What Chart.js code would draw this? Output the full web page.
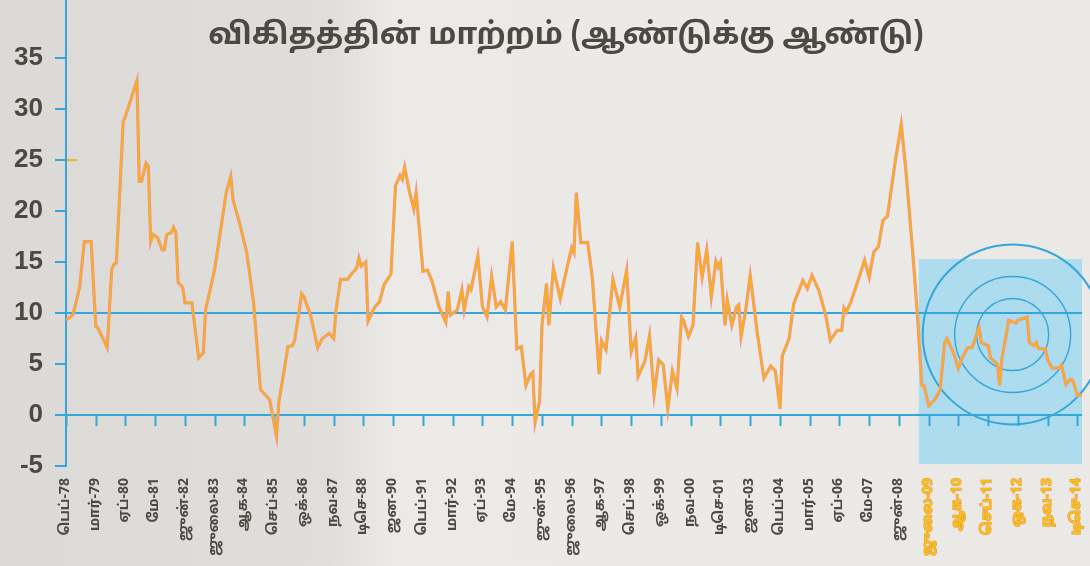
<!DOCTYPE html>
<html>
<head>
<meta charset="utf-8">
<script src="https://cdn.jsdelivr.net/npm/chart.js@4.4.1/dist/chart.umd.min.js"></script>
<style>
  html, body { margin: 0; padding: 0; background: #e8e7e4; }
  #wrap { width: 1090px; height: 566px; }
</style>
</head>
<body>
<div id="wrap"><canvas id="chart" width="1090" height="566"></canvas></div>
<script>
// month index, 0 = Feb 1978
const months = [
  0, 3, 5, 6, 8, 11, 13, 14, 18, 20,
  21, 22, 25, 26, 31, 32, 33, 35, 36, 37,
  38, 40, 42, 43, 44, 46, 47, 48, 49, 51,
  52, 55, 58, 60, 61, 65, 70, 72, 73, 76,
  79, 82, 85, 89, 92, 93, 97, 99, 100, 103,
  104, 107, 110, 112, 115, 117, 118, 120, 123, 125,
  127, 128, 129, 131, 132, 135, 137, 139, 142, 144,
  146, 147, 148, 150, 152, 153, 156, 158, 160, 163,
  166, 167, 168, 171, 173, 174, 176, 177, 180, 182,
  184, 186, 188, 190, 192, 195, 197, 199, 201, 203,
  204, 205, 207, 208, 210, 211, 213, 216, 219, 221,
  222, 223, 225, 228, 230, 233, 234, 236, 239, 242,
  245, 247, 249, 250, 253, 255, 257, 259, 261, 263,
  265, 267, 269, 270, 272, 274, 276, 278, 280, 282,
  284, 285, 286, 288, 289, 291, 293, 294, 295, 297,
  299, 302, 305, 308, 310, 312, 313, 316, 318, 322,
  324, 326, 329, 332, 334, 337, 339, 340, 341, 343,
  346, 349, 351, 353, 355, 357, 359, 362, 365, 367,
  370, 372, 374, 375, 377, 380, 382, 384, 385, 388,
  390, 392, 394, 396, 399, 400, 403, 404, 407, 408,
  409, 412, 415, 416, 420, 421, 423, 424, 425, 428,
  429, 431, 434, 435, 437, 439, 440, 442, 444
];

// year-on-year change (%)
const rates = [
  9.3, 9.8, 11.6, 12.6, 17.0, 17.0, 8.7, 8.5, 6.6, 14.3,
  14.8, 14.9, 28.8, 29.3, 32.8, 22.9, 22.9, 24.7, 24.4, 17.0,
  17.7, 17.4, 16.2, 16.2, 17.7, 17.9, 18.4, 17.9, 13.0, 12.5,
  11.0, 11.0, 5.6, 6.1, 10.3, 14.3, 21.8, 23.4, 21.1, 18.7,
  15.9, 11.0, 2.5, 1.5, -2.1, 1.2, 6.7, 6.8, 7.4, 11.9,
  11.6, 9.7, 6.6, 7.5, 8.0, 7.5, 10.3, 13.3, 13.3, 13.9,
  14.4, 15.4, 14.6, 15.0, 9.2, 10.6, 11.1, 12.8, 13.8, 22.5,
  23.5, 23.1, 24.3, 22.0, 20.2, 21.8, 14.1, 14.2, 13.1, 10.6,
  9.1, 12.1, 9.8, 10.3, 12.3, 10.3, 12.6, 12.3, 15.6, 10.6,
  9.6, 13.6, 10.6, 11.1, 10.3, 17.0, 6.5, 6.7, 2.9, 4.0,
  4.2, -0.7, 1.4, 8.8, 12.9, 8.8, 14.4, 11.4, 14.5, 16.4,
  15.9, 21.8, 16.9, 16.9, 13.5, 4.0, 7.3, 6.4, 13.3, 10.6,
  14.2, 6.2, 7.6, 3.8, 5.3, 7.8, 2.0, 5.4, 4.9, 0.6,
  4.3, 2.6, 9.6, 9.2, 7.7, 8.8, 16.9, 13.5, 16.2, 11.6,
  15.1, 14.5, 15.0, 8.8, 11.3, 8.8, 10.6, 10.8, 7.7, 10.2,
  13.7, 8.2, 3.6, 4.8, 4.3, 0.6, 5.8, 7.5, 10.9, 13.2,
  12.4, 13.7, 12.2, 9.8, 7.3, 8.3, 8.3, 10.5, 10.1, 11.1,
  13.1, 15.2, 13.5, 16.0, 16.5, 19.1, 19.5, 24.3, 28.5, 24.1,
  16.0, 10.1, 2.9, 2.9, 0.9, 1.6, 2.5, 7.1, 7.5, 6.0,
  4.6, 5.8, 6.6, 6.6, 8.6, 7.1, 6.8, 5.6, 5.0, 2.9,
  5.5, 9.3, 9.0, 9.3, 9.6, 7.1, 6.8, 7.1, 6.5, 6.5,
  5.4, 4.6, 4.6, 4.9, 3.0, 3.5, 3.4, 1.9, 2.0
];

// one label every 13 months
const tickLabels = [
  'பெப்-78', 'மார்-79', 'ஏப்-80', 'மே-81', 'ஜுன்-82', 'ஜுலை-83', 'ஆக-84',
  'செப்-85', 'ஒக்-86', 'நவ-87', 'டிசெ-88', 'ஜன-90', 'பெப்-91', 'மார்-92',
  'ஏப்-93', 'மே-94', 'ஜுன்-95', 'ஜுலை-96', 'ஆக-97', 'செப்-98', 'ஒக்-99',
  'நவ-00', 'டிசெ-01', 'ஜன-03', 'பெப்-04', 'மார்-05', 'ஏப்-06', 'மே-07',
  'ஜுன்-08', 'ஜுலை-09', 'ஆக-10', 'செப்-11', 'ஒக-12', 'நவ-13', 'டிசெ-14'
];
const yTicks = [-5, 0, 5, 10, 15, 20, 25, 30, 35];
const tickStep = 13;
const highlightFrom = 29; // labels from ஜுலை-09 on are coloured

const title = 'விகிதத்தின் மாற்றம் (ஆண்டுக்கு ஆண்டு)';
const blue = '#35a6da';
const tamilFont = '"Noto Sans Tamil", "Lohit Tamil", "Noto Sans", "DejaVu Sans", sans-serif';

const points = months.map((m, i) => ({ x: m, y: rates[i] }));

// drop the automatic label padding so the plot area keeps its size
const noPad = (s) => {
    s.paddingTop = 0; s.paddingBottom = 0;
    s.paddingLeft = 0; s.paddingRight = 0;
};

const decor = {
    id: 'decor',
    beforeDraw(chart) {
        const { ctx, width, height, scales: { x, y } } = chart;
        // paper
        const g = ctx.createLinearGradient(0, 0, width, 0);
        g.addColorStop(0, '#dcdad6');
        g.addColorStop(0.3, '#e0dedb');
        g.addColorStop(0.36, '#ebeae7');
        g.addColorStop(1, '#eae9e6');
        ctx.save();
        ctx.fillStyle = g;
        ctx.fillRect(0, 0, width, height);
        // shaded panel for the recent period
        ctx.fillStyle = '#acdcee';
        const x0 = x.getPixelForValue(372.7), x1 = x.getPixelForValue(444);
        const y0 = y.getPixelForValue(15.3), y1 = y.getPixelForValue(-4.8);
        ctx.fillRect(x0, y0, x1 - x0, y1 - y0);
        ctx.restore();
    },
    beforeDatasetsDraw(chart) {
        const { ctx, scales: { x, y } } = chart;
        ctx.save();
        // x tick marks hanging from the zero line
        ctx.strokeStyle = blue;
        ctx.lineWidth = 2;
        const y0 = y.getPixelForValue(0);
        x.ticks.forEach(t => {
            const px = Math.round(x.getPixelForValue(t.value)) + 0.5;
            ctx.beginPath();
            ctx.moveTo(px, y0);
            ctx.lineTo(px, y0 + 11);
            ctx.stroke();
        });
        // target rings
        const cx = x.getPixelForValue(413.7), cy = y.getPixelForValue(7.9);
        [[90, 2], [58, 1.4], [36, 1.4]].forEach(([r, w]) => {
            ctx.lineWidth = w;
            ctx.beginPath();
            ctx.arc(cx, cy, r, 0, Math.PI * 2);
            ctx.stroke();
        });
        // small orange marker at 25
        ctx.strokeStyle = '#f4b21e';
        ctx.lineWidth = 2;
        ctx.beginPath();
        ctx.moveTo(x.left + 1, y.getPixelForValue(25));
        ctx.lineTo(x.left + 11, y.getPixelForValue(25));
        ctx.stroke();
        ctx.restore();
    },
    afterDraw(chart) {
        const { ctx } = chart;
        ctx.save();
        ctx.fillStyle = '#4d4844';
        ctx.font = 'bold 30px ' + tamilFont;
        ctx.textAlign = 'center';
        ctx.textBaseline = 'middle';
        ctx.fillText(title, 566, 38);
        ctx.restore();
    }
};

const ctx = document.getElementById('chart').getContext('2d');
const chart = new Chart(ctx, {
    type: 'line',
    data: {
        datasets: [{
            // main line (index 0 is drawn on top)
            data: points,
            borderColor: '#f7b01c',
            borderWidth: 2,
            pointRadius: 0,
            tension: 0,
            fill: false
        }, {
            // pinkish print edge under the line
            data: points,
            borderColor: '#ee90aa',
            borderWidth: 3.2,
            pointRadius: 0,
            tension: 0,
            fill: false
        }]
    },
    options: {
        responsive: false,
        animation: false,
        layout: { padding: { left: 0, right: 8, top: 0, bottom: 0 } },
        plugins: {
            legend: { display: false },
            tooltip: { enabled: false }
        },
        scales: {
            x: {
                type: 'linear',
                min: 0,
                max: 444,
                afterBuildTicks: (s) => {
                    s.ticks = tickLabels.map((_, i) => ({ value: i * tickStep }));
                },
                afterFit: (s) => { s.height = 100; noPad(s); },
                grid: { display: false, drawTicks: false },
                border: { display: false },
                ticks: {
                    autoSkip: false,
                    minRotation: 90,
                    maxRotation: 90,
                    padding: 12,
                    font: { family: tamilFont, size: 14, weight: 'bold' },
                    color: (c) => c.index >= highlightFrom ? '#f7c31a' : '#4d4844',
                    textStrokeColor: (c) => c.index >= highlightFrom ? '#ee8a2a' : 'rgba(0,0,0,0)',
                    textStrokeWidth: (c) => c.index >= highlightFrom ? 1 : 0,
                    callback: (v) => tickLabels[Math.round(v / tickStep)]
                }
            },
            y: {
                min: -5,
                max: 40.7,
                afterBuildTicks: (s) => {
                    s.ticks = yTicks.map(v => ({ value: v }));
                },
                afterFit: (s) => { s.width = 66; noPad(s); },
                grid: {
                    color: (c) => (c.tick && (c.tick.value === 0 || c.tick.value === 10)) ? blue : 'rgba(0,0,0,0)',
                    tickColor: blue,
                    lineWidth: 2,
                    tickWidth: 2,
                    tickLength: 11,
                    drawTicks: true
                },
                border: { display: true, color: blue, width: 2 },
                ticks: {
                    padding: 12,
                    color: '#4d4844',
                    font: { family: '"Liberation Sans", Arial, sans-serif', size: 26, weight: 'bold' }
                }
            }
        }
    },
    plugins: [decor]
});
</script>
</body>
</html>
